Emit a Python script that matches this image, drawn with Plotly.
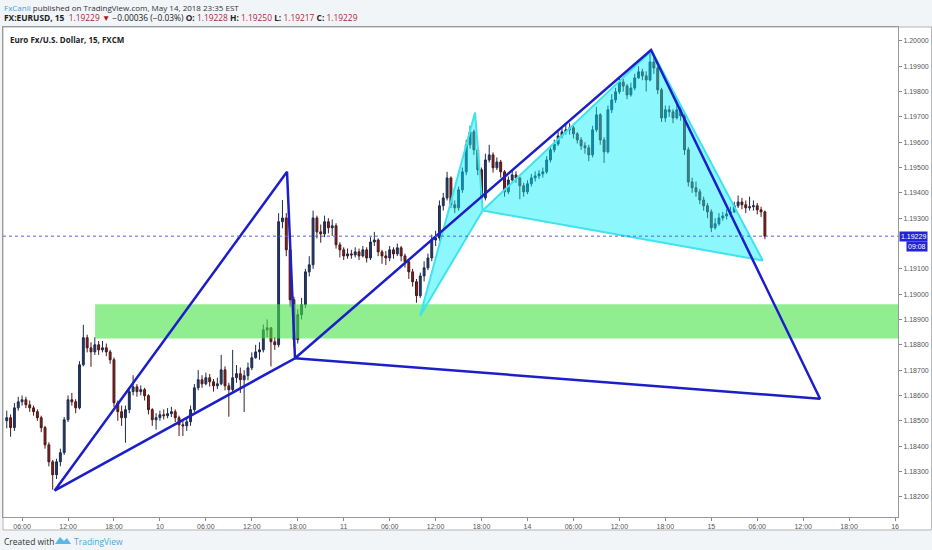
"""EURUSD 15-minute chart with two harmonic (XABCD) pattern drawings.

Candles, a green demand zone, a filled cyan pattern and an outlined
dark-blue pattern, styled like a TradingView snapshot.
"""

import plotly.graph_objects as go

# =============================================================================
# Data
# =============================================================================

# bar times are trading hours counted from May 9 00:00 (weekend gap removed)
BAR_START_HOUR = 4.0
BAR_STEP_HOURS = 0.5
FIRST_OPEN = 1.18500

CLOSES = [
    1.18512, 1.18473, 1.18551, 1.18575, 1.18583, 1.18563, 1.18551, 1.18536, 1.18512, 1.18473,
    1.18405, 1.18338, 1.18287, 1.18338, 1.18374, 1.18504, 1.18583, 1.18575, 1.18551, 1.18721,
    1.18828, 1.18788, 1.18772, 1.18800, 1.18780, 1.18788, 1.18772, 1.18741, 1.18571, 1.18536,
    1.18512, 1.18544, 1.18615, 1.18634, 1.18615, 1.18623, 1.18599, 1.18544, 1.18504, 1.18512,
    1.18524, 1.18520, 1.18528, 1.18536, 1.18512, 1.18484, 1.18480, 1.18496, 1.18544, 1.18630,
    1.18662, 1.18646, 1.18670, 1.18654, 1.18638, 1.18646, 1.18701, 1.18638, 1.18623, 1.18670,
    1.18686, 1.18662, 1.18678, 1.18709, 1.18749, 1.18772, 1.18780, 1.18859, 1.18867, 1.18812,
    1.18800, 1.19286, 1.19301, 1.19175, 1.18978, 1.18820, 1.18919, 1.18958, 1.19088, 1.19116,
    1.19301, 1.19246, 1.19238, 1.19286, 1.19262, 1.19270, 1.19195, 1.19175, 1.19151, 1.19159,
    1.19155, 1.19167, 1.19151, 1.19175, 1.19143, 1.19206, 1.19214, 1.19167, 1.19151, 1.19143,
    1.19175, 1.19159, 1.19183, 1.19151, 1.19128, 1.19088, 1.19049, 1.18994, 1.19072, 1.19104,
    1.19143, 1.19214, 1.19222, 1.19349, 1.19380, 1.19459, 1.19353, 1.19341, 1.19412, 1.19483,
    1.19590, 1.19641, 1.19570, 1.19491, 1.19380, 1.19530, 1.19550, 1.19499, 1.19522, 1.19483,
    1.19404, 1.19451, 1.19471, 1.19459, 1.19428, 1.19404, 1.19436, 1.19459, 1.19467, 1.19475,
    1.19483, 1.19530, 1.19570, 1.19593, 1.19625, 1.19641, 1.19649, 1.19657, 1.19633, 1.19609,
    1.19586, 1.19578, 1.19550, 1.19649, 1.19708, 1.19609, 1.19562, 1.19728, 1.19767, 1.19799,
    1.19838, 1.19822, 1.19787, 1.19814, 1.19854, 1.19878, 1.19862, 1.19846, 1.19917, 1.19893,
    1.19807, 1.19696, 1.19728, 1.19720, 1.19696, 1.19728, 1.19704, 1.19570, 1.19443, 1.19420,
    1.19404, 1.19372, 1.19349, 1.19325, 1.19262, 1.19278, 1.19301, 1.19309, 1.19317, 1.19325,
    1.19349, 1.19364, 1.19353, 1.19341, 1.19345, 1.19349, 1.19333, 1.19325, 1.19229,
]

HIGHS = [
    1.18540, 1.18525, 1.18570, 1.18595, 1.18600, 1.18595, 1.18580, 1.18560, 1.18545, 1.18520,
    1.18480, 1.18415, 1.18345, 1.18350, 1.18390, 1.18515, 1.18600, 1.18610, 1.18585, 1.18735,
    1.18879, 1.18840, 1.18810, 1.18830, 1.18815, 1.18815, 1.18805, 1.18780, 1.18750, 1.18580,
    1.18560, 1.18560, 1.18630, 1.18680, 1.18645, 1.18640, 1.18630, 1.18605, 1.18550, 1.18530,
    1.18540, 1.18545, 1.18550, 1.18555, 1.18545, 1.18520, 1.18500, 1.18510, 1.18560, 1.18645,
    1.18700, 1.18680, 1.18690, 1.18685, 1.18665, 1.18670, 1.18760, 1.18715, 1.18650, 1.18780,
    1.18720, 1.18710, 1.18700, 1.18730, 1.18770, 1.18800, 1.18810, 1.18880, 1.18900, 1.18870,
    1.18830, 1.19320, 1.19372, 1.19320, 1.19190, 1.18990, 1.18940, 1.18985, 1.19100, 1.19150,
    1.19330, 1.19310, 1.19275, 1.19310, 1.19300, 1.19295, 1.19280, 1.19205, 1.19185, 1.19180,
    1.19175, 1.19185, 1.19180, 1.19190, 1.19185, 1.19225, 1.19246, 1.19220, 1.19175, 1.19170,
    1.19190, 1.19185, 1.19200, 1.19190, 1.19160, 1.19135, 1.19100, 1.19060, 1.19085, 1.19130,
    1.19160, 1.19235, 1.19250, 1.19370, 1.19400, 1.19483, 1.19465, 1.19370, 1.19425, 1.19500,
    1.19610, 1.19665, 1.19650, 1.19580, 1.19500, 1.19555, 1.19590, 1.19560, 1.19540, 1.19530,
    1.19490, 1.19465, 1.19490, 1.19485, 1.19465, 1.19440, 1.19450, 1.19475, 1.19485, 1.19490,
    1.19500, 1.19545, 1.19585, 1.19610, 1.19640, 1.19660, 1.19670, 1.19675, 1.19665, 1.19640,
    1.19620, 1.19600, 1.19590, 1.19665, 1.19740, 1.19715, 1.19620, 1.19745, 1.19790, 1.19815,
    1.19860, 1.19850, 1.19830, 1.19835, 1.19870, 1.19900, 1.19890, 1.19880, 1.19953, 1.19935,
    1.19900, 1.19815, 1.19745, 1.19745, 1.19730, 1.19765, 1.19740, 1.19715, 1.19580, 1.19460,
    1.19445, 1.19415, 1.19385, 1.19360, 1.19335, 1.19300, 1.19320, 1.19325, 1.19335, 1.19345,
    1.19365, 1.19390, 1.19380, 1.19370, 1.19385, 1.19370, 1.19360, 1.19345, 1.19330,
]

LOWS = [
    1.18470, 1.18437, 1.18460, 1.18540, 1.18560, 1.18550, 1.18535, 1.18520, 1.18500, 1.18455,
    1.18390, 1.18320, 1.18228, 1.18270, 1.18320, 1.18365, 1.18495, 1.18560, 1.18530, 1.18545,
    1.18715, 1.18770, 1.18713, 1.18760, 1.18760, 1.18770, 1.18755, 1.18725, 1.18555, 1.18500,
    1.18480, 1.18413, 1.18530, 1.18600, 1.18595, 1.18600, 1.18580, 1.18525, 1.18480, 1.18465,
    1.18500, 1.18505, 1.18510, 1.18515, 1.18495, 1.18440, 1.18440, 1.18460, 1.18480, 1.18535,
    1.18620, 1.18630, 1.18640, 1.18635, 1.18615, 1.18625, 1.18640, 1.18620, 1.18516, 1.18610,
    1.18650, 1.18610, 1.18535, 1.18660, 1.18700, 1.18745, 1.18741, 1.18770, 1.18830, 1.18715,
    1.18780, 1.18790, 1.19260, 1.19150, 1.18950, 1.18792, 1.18805, 1.18900, 1.18945, 1.19070,
    1.19100, 1.19220, 1.19203, 1.19225, 1.19240, 1.19230, 1.19180, 1.19145, 1.19135, 1.19140,
    1.19140, 1.19145, 1.19135, 1.19145, 1.19125, 1.19135, 1.19190, 1.19150, 1.19120, 1.19115,
    1.19130, 1.19140, 1.19150, 1.19130, 1.19105, 1.19060, 1.19030, 1.18966, 1.18985, 1.19050,
    1.19095, 1.19130, 1.19190, 1.19210, 1.19330, 1.19370, 1.19340, 1.19320, 1.19330, 1.19400,
    1.19470, 1.19575, 1.19550, 1.19470, 1.19360, 1.19370, 1.19520, 1.19480, 1.19490, 1.19460,
    1.19385, 1.19395, 1.19440, 1.19440, 1.19375, 1.19385, 1.19395, 1.19425, 1.19445, 1.19455,
    1.19460, 1.19475, 1.19520, 1.19560, 1.19585, 1.19615, 1.19630, 1.19630, 1.19615, 1.19595,
    1.19570, 1.19555, 1.19525, 1.19540, 1.19640, 1.19590, 1.19518, 1.19555, 1.19715, 1.19755,
    1.19790, 1.19800, 1.19770, 1.19780, 1.19805, 1.19850, 1.19845, 1.19800, 1.19840, 1.19870,
    1.19790, 1.19680, 1.19680, 1.19700, 1.19675, 1.19690, 1.19685, 1.19550, 1.19425, 1.19400,
    1.19385, 1.19355, 1.19330, 1.19300, 1.19245, 1.19255, 1.19270, 1.19290, 1.19295, 1.19305,
    1.19320, 1.19340, 1.19335, 1.19320, 1.19330, 1.19330, 1.19315, 1.19305, 1.19217,
]

# harmonic patterns: points X, A, B, C, D
DARK_PATTERN_HOURS = [10.24, 40.60, 41.64, 88.13, 110.20]
DARK_PATTERN_PRICES = [1.18224, 1.19483, 1.18747, 1.19964, 1.18587]
CYAN_PATTERN_HOURS = [57.97, 65.15, 66.15, 88.22, 102.72]
CYAN_PATTERN_PRICES = [1.18914, 1.19717, 1.19330, 1.19962, 1.19133]

# demand zone (extends to the right edge)
ZONE_START_HOUR = 15.53
ZONE_BOTTOM = 1.18825
ZONE_TOP = 1.18960

LAST_PRICE = 1.19229
COUNTDOWN = "09:08"

X_TICK_HOURS = [6, 12, 18, 24, 30, 36, 42, 48, 54, 60, 66, 72, 78, 84, 90, 96, 102, 108, 114, 120]
X_TICK_LABELS = [
    "06:00", "12:00", "18:00", "10", "06:00", "12:00", "18:00", "11", "06:00", "12:00",
    "18:00", "14", "06:00", "12:00", "18:00", "15", "06:00", "12:00", "18:00", "16",
]
# 1.19200 sits behind the countdown box, so it is left out
Y_TICK_VALUES = [
    1.182, 1.183, 1.184, 1.185, 1.186, 1.187, 1.188, 1.189, 1.190, 1.191,
    1.193, 1.194, 1.195, 1.196, 1.197, 1.198, 1.199, 1.200,
]

X_RANGE = [3.51, 120.38]
Y_RANGE = [1.18120, 1.20055]

# =============================================================================
# Style
# =============================================================================

TEXT_FONT = "Open Sans"
TICK_FONT = "Liberation Sans"
DARK_BLUE = "#1c1fc9"
CYAN_LINE = "#3fe3ee"
CYAN_FILL = "rgba(0,240,250,0.45)"
ZONE_FILL = "rgba(70,227,70,0.6)"
PRICE_RED = "#b0283a"
LABEL_BLUE = "#2323dc"


def _triangle(hours, prices, idx, *, fill, line_color, width):
    """Closed triangle through three pattern points."""
    xs = [hours[i] for i in idx] + [hours[idx[0]]]
    ys = [prices[i] for i in idx] + [prices[idx[0]]]
    return go.Scatter(
        x=xs,
        y=ys,
        mode="lines",
        fill="toself" if fill else None,
        fillcolor=fill,
        line={"color": line_color, "width": width},
        hoverinfo="skip",
        showlegend=False,
    )


opens = [FIRST_OPEN] + CLOSES[:-1]
bar_hours = [BAR_START_HOUR + BAR_STEP_HOURS * i for i in range(len(CLOSES))]

fig = go.Figure()

fig.add_trace(
    go.Candlestick(
        x=bar_hours,
        open=opens,
        high=HIGHS,
        low=LOWS,
        close=CLOSES,
        increasing={"line": {"color": "#1e2b4c", "width": 1}, "fillcolor": "#24386c"},
        decreasing={"line": {"color": "#4a1717", "width": 1}, "fillcolor": "#8e1d1d"},
        whiskerwidth=0,
        showlegend=False,
    )
)

# demand zone drawn over the candles
zone_end = X_RANGE[1] + 5
fig.add_trace(
    go.Scatter(
        x=[ZONE_START_HOUR, zone_end, zone_end, ZONE_START_HOUR, ZONE_START_HOUR],
        y=[ZONE_BOTTOM, ZONE_BOTTOM, ZONE_TOP, ZONE_TOP, ZONE_BOTTOM],
        mode="lines",
        fill="toself",
        fillcolor=ZONE_FILL,
        line={"width": 0},
        hoverinfo="skip",
        showlegend=False,
    )
)

for idx in ([0, 1, 2], [2, 3, 4]):
    fig.add_trace(
        _triangle(CYAN_PATTERN_HOURS, CYAN_PATTERN_PRICES, idx,
                  fill=CYAN_FILL, line_color=CYAN_LINE, width=2)
    )
for idx in ([0, 1, 2], [2, 3, 4]):
    fig.add_trace(
        _triangle(DARK_PATTERN_HOURS, DARK_PATTERN_PRICES, idx,
                  fill=None, line_color=DARK_BLUE, width=2.5)
    )

# last price dotted line
fig.add_shape(
    type="line", xref="paper", yref="y", x0=0, x1=1, y0=LAST_PRICE, y1=LAST_PRICE,
    line={"color": "#5a5cf0", "width": 1, "dash": "dot"}, layer="above",
)
# white chart panel behind plot and axes
fig.add_shape(
    type="rect", xref="paper", yref="paper", x0=0, x1=1.0375, y0=-0.0265, y1=1,
    fillcolor="white", line={"color": "#b4b4b4", "width": 1}, layer="below",
)

header_1 = (
    "<span style='color:#3d9fe0'>FxCanli</span> published on TradingView.com, "
    "May 14, 2018 23:35 EST"
)
header_2 = (
    f"<b>FX:EURUSD, 15</b>  <span style='color:{PRICE_RED}'>1.19229</span> "
    f"<span style='color:#b01818'>▼</span> −0.00036 (−0.03%) "
    f"<b>O:</b> <span style='color:{PRICE_RED}'>1.19228</span> "
    f"<b>H:</b> <span style='color:{PRICE_RED}'>1.19250</span> "
    f"<b>L:</b> <span style='color:{PRICE_RED}'>1.19217</span> "
    f"<b>C:</b> <span style='color:{PRICE_RED}'>1.19229</span>"
)

annotations = [
    {"text": header_1, "x": -0.0012, "y": 1.0408, "font": {"size": 8, "color": "#333"}},
    {"text": header_2, "x": -0.0012, "y": 1.0204, "font": {"size": 8.4, "color": "#222"}},
    {"text": "<b>Euro Fx/U.S. Dollar, 15, FXCM</b>", "x": 0.0056, "y": 0.9735,
     "font": {"size": 8, "color": "#222"}},
    {"text": "Created with", "x": -0.0012, "y": -0.049,
     "font": {"size": 8.5, "color": "#333"}},
    {"text": "TradingView", "x": 0.0775, "y": -0.049,
     "font": {"size": 8.5, "color": "#4aa8dc"}},
]
for a in annotations:
    a.update({"xref": "paper", "yref": "paper", "xanchor": "left", "yanchor": "middle",
              "showarrow": False, "font": {"family": TEXT_FONT, **a["font"]}})

# price label and countdown on the axis
annotations.append({
    "text": f"{LAST_PRICE:.5f}", "xref": "paper", "yref": "y", "x": 1.001, "y": LAST_PRICE,
    "xanchor": "left", "yanchor": "middle", "showarrow": False, "bgcolor": LABEL_BLUE,
    "borderpad": 1, "font": {"family": TICK_FONT, "size": 7, "color": "white"},
})
annotations.append({
    "text": COUNTDOWN, "xref": "paper", "yref": "y", "x": 1.0085, "y": LAST_PRICE,
    "yshift": -10, "xanchor": "left", "yanchor": "middle", "showarrow": False,
    "bgcolor": LABEL_BLUE, "borderpad": 1,
    "font": {"family": TICK_FONT, "size": 7, "color": "white"},
})

# TradingView logo (small cloud mark)
fig.add_shape(
    type="path", xref="paper", yref="paper",
    path="M 0.0581,-0.0551 L 0.0637,-0.0410 L 0.0681,-0.0490 L 0.0715,-0.0429 "
         "L 0.0760,-0.0551 Z",
    fillcolor="#5ab7e6", line={"width": 0}, layer="above",
)

fig.update_layout(
    width=932,
    height=550,
    margin={"l": 3, "r": 34, "t": 27, "b": 33, "autoexpand": False},
    paper_bgcolor="#f2f5f8",
    plot_bgcolor="white",
    showlegend=False,
    hovermode=False,
    annotations=annotations,
    xaxis={
        "range": X_RANGE,
        "tickvals": X_TICK_HOURS,
        "ticktext": X_TICK_LABELS,
        "showgrid": False,
        "zeroline": False,
        "rangeslider": {"visible": False},
        "ticks": "outside",
        "ticklen": 3,
        "tickcolor": "#888",
        "showline": True,
        "linecolor": "#999",
        "mirror": True,
        "tickfont": {"family": TICK_FONT, "size": 7, "color": "#555"},
    },
    yaxis={
        "range": Y_RANGE,
        "side": "right",
        "tickvals": Y_TICK_VALUES,
        "tickformat": ".5f",
        "showgrid": False,
        "zeroline": False,
        "ticks": "outside",
        "ticklen": 3,
        "tickcolor": "#888",
        "showline": True,
        "linecolor": "#999",
        "mirror": True,
        "tickfont": {"family": TICK_FONT, "size": 7, "color": "#555"},
    },
)

# the page's default body margin would shift the chart off the window
fig.write_html(
    "out.html",
    config={"displayModeBar": False},
    post_script="document.body.style.margin = '0';",
)
